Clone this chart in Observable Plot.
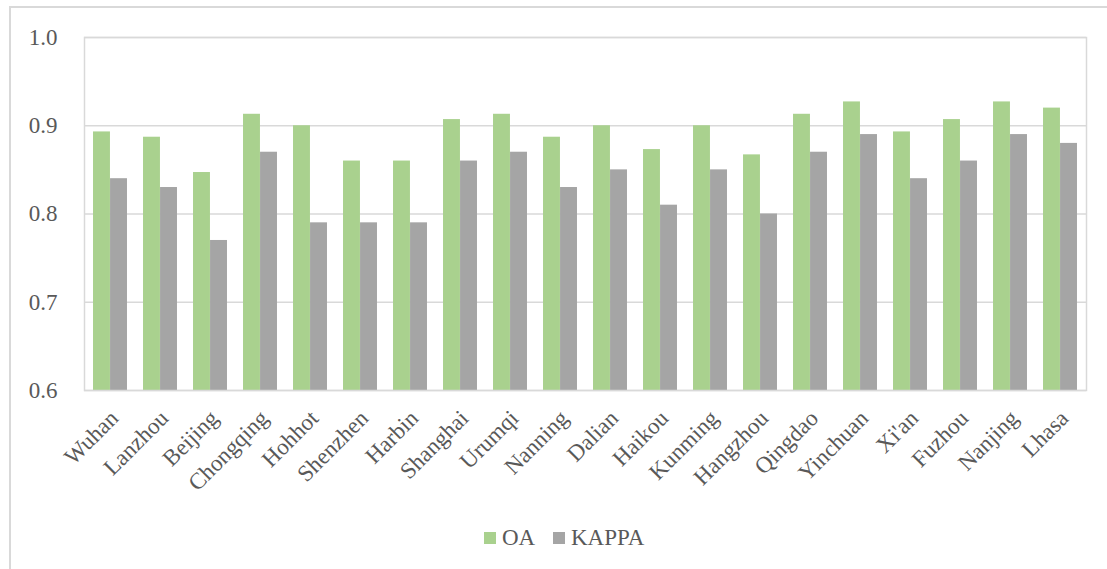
<!DOCTYPE html>
<html>
<head>
<meta charset="utf-8">
<script src="https://cdn.jsdelivr.net/npm/d3@7"></script>
<script src="https://cdn.jsdelivr.net/npm/@observablehq/plot@0.6"></script>
<style>
  html, body { margin: 0; padding: 0; background: #fff; }
  #page { position: relative; width: 1107px; height: 569px; overflow: hidden; }
  #outer { position: absolute; left: 9px; top: 6px; width: 1200px; height: 700px;
           border-left: 2px solid #d9d9d9; border-top: 2px solid #d9d9d9; }
  #chart { position: absolute; left: 0; top: 0; }
  #legend { position: absolute; left: 0; top: 524px; width: 1107px; height: 28px;
            font-family: "Liberation Serif", "Times New Roman", serif; font-size: 23px; color: #595959; }
  .item { position: absolute; top: 0; display: flex; align-items: center; height: 28px; }
  .sw { width: 12px; height: 12px; margin-right: 6px; }
</style>
</head>
<body>
<div id="page">
  <div id="outer"></div>
  <div id="chart"></div>
  <div id="legend"></div>
</div>
<script>
// Classification accuracy per city
const cities = ["Wuhan", "Lanzhou", "Beijing", "Chongqing", "Hohhot", "Shenzhen", "Harbin",
  "Shanghai", "Urumqi", "Nanning", "Dalian", "Haikou", "Kunming", "Hangzhou", "Qingdao",
  "Yinchuan", "Xi'an", "Fuzhou", "Nanjing", "Lhasa"];
const oa = [0.893, 0.887, 0.847, 0.913, 0.900, 0.860, 0.860, 0.907, 0.913, 0.887,
  0.900, 0.873, 0.900, 0.867, 0.913, 0.927, 0.893, 0.907, 0.927, 0.920];
const kappa = [0.84, 0.83, 0.77, 0.87, 0.79, 0.79, 0.79, 0.86, 0.87, 0.83,
  0.85, 0.81, 0.85, 0.80, 0.87, 0.89, 0.84, 0.86, 0.89, 0.88];
const seriesNames = ["OA", "KAPPA"];
const seriesColors = ["#a9d18e", "#a5a5a5"];
const yTicks = [0.6, 0.7, 0.8, 0.9, 1.0];
const yBase = 0.6;

const oaRows = cities.map((c, i) => ({city: c, series: "OA", value: oa[i]}));
const kappaRows = cities.map((c, i) => ({city: c, series: "KAPPA", value: kappa[i]}));

const font = "'Liberation Serif', 'Times New Roman', serif";
const W = 1107, ML = 84, MR = 21;
// each city gets one band; the pair of bars fills the middle 68% of it
const step = (W - ML - MR) / cities.length;
const gap = 0.16 * step, half = 0.5 * step;

const chart = Plot.plot({
  width: W,
  height: 500,
  marginLeft: ML,
  marginRight: MR,
  marginTop: 37,
  marginBottom: 110,
  style: {fontFamily: font, fontSize: "23px", color: "#595959", background: "transparent", overflow: "visible"},
  x: {type: "band", domain: cities, padding: 0, label: null},
  y: {domain: [0.6, 1.0], label: null},
  color: {domain: seriesNames, range: seriesColors},
  marks: [
    Plot.gridY({ticks: yTicks, stroke: "#d9d9d9", strokeOpacity: 1, strokeWidth: 1.5}),
    Plot.barY(oaRows, {x: "city", y1: yBase, y2: "value", fill: "series", insetLeft: gap, insetRight: half}),
    Plot.barY(kappaRows, {x: "city", y1: yBase, y2: "value", fill: "series", insetLeft: half, insetRight: gap}),
    Plot.frame({stroke: "#d9d9d9", strokeWidth: 1.5}),
    Plot.axisY({ticks: yTicks, tickFormat: ".1f", tickSize: 0, tickPadding: 27, label: null, fontSize: 23}),
    Plot.axisX({tickRotate: -45, tickSize: 0, tickPadding: 24, dx: 4, label: null, fontSize: 23})
  ]
});
document.getElementById("chart").appendChild(chart);

// Legend row under the chart
const legend = document.getElementById("legend");
const lefts = [484, 553];
seriesNames.forEach((name, i) => {
  const item = document.createElement("div");
  item.className = "item";
  item.style.left = lefts[i] + "px";
  const sw = document.createElement("div");
  sw.className = "sw";
  sw.style.background = seriesColors[i];
  const t = document.createElement("span");
  t.textContent = name;
  item.appendChild(sw);
  item.appendChild(t);
  legend.appendChild(item);
});
</script>
</body>
</html>
